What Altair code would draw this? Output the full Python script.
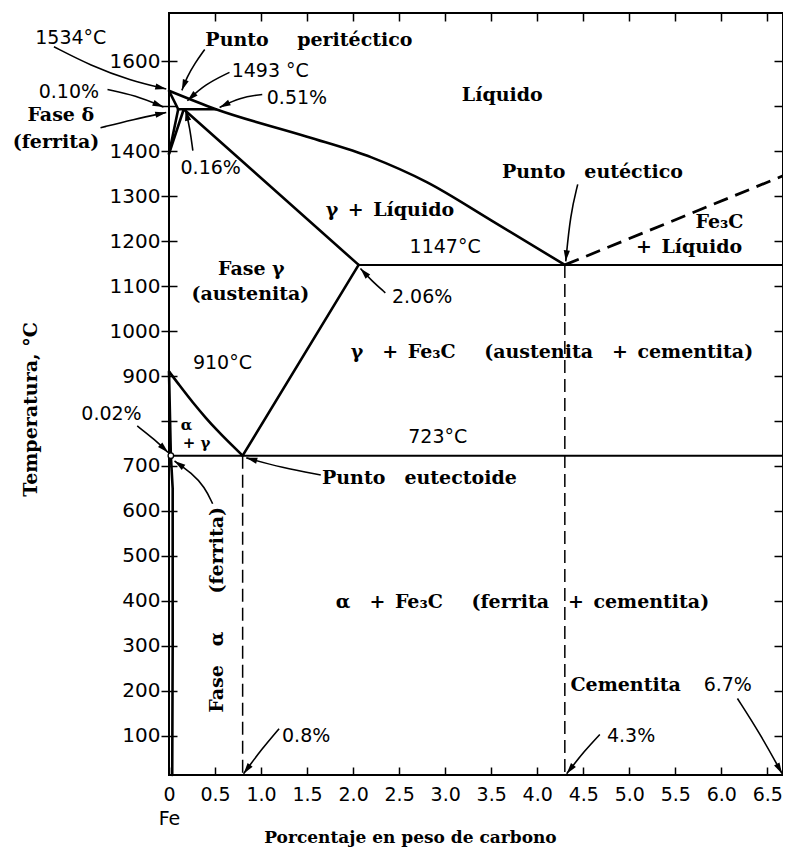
import math
import altair as alt
import pandas as pd

# ---------------- data (x = % C by weight, t = temperature in °C) ----------------
X_DOM = [0, 6.67]
Y_DOM = [13, 1707]
X_TICKS = [0, 0.5, 1.0, 1.5, 2.0, 2.5, 3.0, 3.5, 4.0, 4.5, 5.0, 5.5, 6.0, 6.5]
Y_TICKS = [100, 200, 300, 400, 500, 600, 700, 800, 900, 1000, 1100, 1200, 1300, 1400, 1500, 1600]

# straight phase boundaries
delta_solidus_x = [0, 0.10]
delta_solidus_t = [1534, 1493]
delta_solvus_x = [0.10, 0]
delta_solvus_t = [1493, 1394]
gamma_delta_x = [0.16, 0]
gamma_delta_t = [1493, 1394]
peritectic_x = [0.10, 0.51]
peritectic_t = [1493, 1493]
gamma_solidus_x = [0.16, 2.06]
gamma_solidus_t = [1493, 1147]
eutectic_x = [2.06, 6.67]
eutectic_t = [1147, 1147]
acm_x = [2.06, 0.80]
acm_t = [1147, 723]
alpha_gamma_x = [0, 0.02]
alpha_gamma_t = [910, 723]
eutectoid_x = [0.02, 6.67]
eutectoid_t = [723, 723]
alpha_solvus_x = [0.02, 0.04, 0.04, 0.035]
alpha_solvus_t = [723, 650, 300, 13]

# curved phase boundaries
liquidus_x = [0, 0.51, 1.5, 2.2, 2.8, 3.5, 4.3]
liquidus_t = [1534, 1493, 1432, 1386, 1331, 1246, 1147]
a3_x = [0, 0.10, 0.26, 0.40, 0.52, 0.80]
a3_t = [910, 883, 841, 807, 780, 723]

# dashed lines
fe3c_liq_x = [4.3, 6.67]
fe3c_liq_t = [1147, 1345]
v08_x = [0.8, 0.8]
v08_t = [723, 13]
v43_x = [4.3, 4.3]
v43_t = [1147, 13]

# annotation arrows (paths, tail -> tip)
arrows = {
    "a1534": ([-1.25, -0.851, -0.42, -0.03], [1632, 1590, 1557, 1538]),
    "aperi": ([0.388, 0.28, 0.194, 0.14], [1626, 1595, 1564, 1535]),
    "a1493": ([0.657, 0.388, 0.20], [1575, 1548, 1512]),
    "a010": ([-0.668, -0.366, -0.06], [1537, 1524, 1498]),
    "a051": ([1.013, 0.765, 0.55], [1526, 1519, 1497]),
    "adelta": ([-0.744, -0.388, -0.03], [1452, 1470, 1486]),
    "a016": ([0.259, 0.226, 0.18], [1401, 1452, 1492]),
    "a206": ([2.35, 2.20, 2.08], [1085, 1112, 1139]),
    "aeut": ([4.44, 4.36, 4.31], [1326, 1259, 1155]),
    "a002": ([-0.345, -0.151, -0.01], [789, 758, 730]),
    "aferr": ([0.474, 0.388, 0.248, 0.06], [616, 653, 684, 711]),
    "aeutd": ([1.649, 1.228, 0.84], [680, 696, 718]),
    "a08": ([1.196, 1.013, 0.81], [116, 72, 16]),
    "a43": ([4.68, 4.515, 4.32], [103, 67, 16]),
    "a67": ([6.175, 6.42, 6.66], [183, 105, 16]),
}

# text labels (\u2002 / \u2003 = en / em spaces, to keep the wide word gaps)
serif_text = ["Punto\u2003\u2002peritéctico", "Fase δ", "(ferrita)", "Líquido",
              "Punto\u2003eutéctico", "Fe₃C", "+\u2002Líquido", "γ\u2002+\u2002Líquido",
              "Fase γ", "(austenita)",
              "γ\u2003+\u2002Fe₃C\u2003\u2002(austenita\u2003+\u2002cementita)",
              "Punto\u2003eutectoide",
              "α\u2003+\u2002Fe₃C\u2003\u2002(ferrita\u2003+\u2002cementita)", "Cementita"]
serif_x = [1.52, -1.175, -1.228, 3.62, 4.6, 5.98, 5.65, 2.40, 0.894, 0.884, 4.16,
           2.72, 3.84, 4.96]
serif_t = [1646, 1481, 1421, 1524, 1353, 1242, 1186, 1270, 1137, 1082, 953, 673, 398, 214]

small_text = ["α", "+ γ"]
small_x = [0.19, 0.30]
small_t = [792, 752]

sans_text = ["1534°C", "1493 °C", "0.10%", "0.51%", "0.16%", "1147°C", "2.06%", "910°C",
             "0.02%", "723°C", "6.7%", "0.8%", "4.3%"]
sans_x = [-1.067, 1.10, -1.088, 1.39, 0.453, 3.0, 2.75, 0.58, -0.625, 2.92, 6.07, 1.49, 5.02]
sans_t = [1652, 1577, 1532, 1517, 1362, 1186, 1075, 929, 815, 764, 214, 100, 100]

rot_text = ["Fase\u2003α\u2003\u2003(ferrita)"]
rot_x = [0.517]
rot_t = [380]

point_x = [0.02]
point_t = [723]

# ---------------- layout ----------------
W, H = 614, 762
SERIF = "DejaVu Serif"
SANS = "DejaVu Sans"
HEAD = "M0,0L0.62,2.2L-0.62,2.2Z"


def paths_df(paths):
    rows = []
    for name, (xs, ts) in paths.items():
        for i, (x, t) in enumerate(zip(xs, ts)):
            rows.append({"seg": name, "i": i, "x": x, "t": t})
    return pd.DataFrame(rows)


solid_df = paths_df({
    "delta_solidus": (delta_solidus_x, delta_solidus_t),
    "delta_solvus": (delta_solvus_x, delta_solvus_t),
    "gamma_delta": (gamma_delta_x, gamma_delta_t),
    "peritectic": (peritectic_x, peritectic_t),
    "gamma_solidus": (gamma_solidus_x, gamma_solidus_t),
    "acm": (acm_x, acm_t),
    "alpha_gamma": (alpha_gamma_x, alpha_gamma_t),
    "alpha_solvus": (alpha_solvus_x, alpha_solvus_t),
})
horiz_df = paths_df({
    "eutectic": (eutectic_x, eutectic_t),
    "eutectoid": (eutectoid_x, eutectoid_t),
})
curve_df = paths_df({"liquidus": (liquidus_x, liquidus_t), "a3": (a3_x, a3_t)})
fe3c_df = paths_df({"fe3c": (fe3c_liq_x, fe3c_liq_t)})
vdash_df = paths_df({"v08": (v08_x, v08_t), "v43": (v43_x, v43_t)})
arrow_df = paths_df(arrows)

sx = W / (X_DOM[1] - X_DOM[0])
sy = H / (Y_DOM[1] - Y_DOM[0])
heads = []
for name, (xs, ts) in arrows.items():
    dx = (xs[-1] - xs[-2]) * sx
    dy = -(ts[-1] - ts[-2]) * sy
    ang = math.degrees(math.atan2(dx, -dy)) % 360
    heads.append({"x": xs[-1], "t": ts[-1], "ang": ang})
head_df = pd.DataFrame(heads)

serif_df = pd.DataFrame({"label": serif_text, "x": serif_x, "t": serif_t})
small_df = pd.DataFrame({"label": small_text, "x": small_x, "t": small_t})
sans_df = pd.DataFrame({"label": sans_text, "x": sans_x, "t": sans_t})
rot_df = pd.DataFrame({"label": rot_text, "x": rot_x, "t": rot_t})
pt_df = pd.DataFrame({"x": point_x, "t": point_t})

xs_ = alt.Scale(domain=X_DOM, nice=False, zero=False)
ys_ = alt.Scale(domain=Y_DOM, nice=False, zero=False)

bottom_axis = alt.Axis(
    orient="bottom", values=X_TICKS, offset=-8, tickSize=8, tickWidth=1.5, tickColor="black",
    domain=False, grid=False, labelFont=SANS, labelFontSize=19, labelColor="black",
    labelPadding=10, labelLineHeight=24, labelFlush=False, labelOverlap=False,
    labelExpr="datum.value == 0 ? ['0', 'Fe'] : format(datum.value, '.1f')",
    title="Porcentaje  en  peso  de  carbono", titleFont=SERIF, titleFontSize=17,
    titleFontWeight="bold", titleColor="black", titleX=241, titleY=70,
    titleBaseline="middle", titleAlign="center",
)
left_axis = alt.Axis(
    orient="left", values=Y_TICKS, offset=-8, tickSize=16, tickWidth=1.5, tickColor="black",
    domain=False, grid=False, labelFont=SANS, labelFontSize=20, labelColor="black",
    labelPadding=1, labelFlush=False, labelOverlap=False, format="d",
    labelExpr="(datum.value == 800 || datum.value == 1500) ? '' : datum.label",
    title="Temperatura, °C", titleFont=SERIF, titleFontSize=19, titleFontWeight="bold",
    titleColor="black", titleAngle=270, titleX=-147, titleY=396,
    titleBaseline="middle", titleAlign="center",
)
top_axis = alt.Axis(
    orient="top", values=X_TICKS[1:], offset=-8, tickSize=8, tickWidth=1.5, tickColor="black",
    domain=False, grid=False, labels=False, title="",
)
right_axis = alt.Axis(
    orient="right", values=Y_TICKS, offset=-9, tickSize=9, tickWidth=1.5, tickColor="black",
    domain=False, grid=False, labels=False, title="",
)


def enc(xaxis=None, yaxis=None):
    return {
        "x": alt.X("x:Q", scale=xs_, axis=xaxis, title=""),
        "y": alt.Y("t:Q", scale=ys_, axis=yaxis, title=""),
    }


solid = alt.Chart(solid_df).mark_line(color="black", strokeWidth=2.6, strokeCap="round").encode(
    detail="seg:N", order="i:Q", **enc(bottom_axis, left_axis))
horiz = alt.Chart(horiz_df).mark_line(color="black", strokeWidth=2).encode(
    detail="seg:N", order="i:Q", **enc())
curves = alt.Chart(curve_df).mark_line(color="black", strokeWidth=2.6, interpolate="monotone").encode(
    detail="seg:N", order="i:Q", **enc())
vdash = alt.Chart(vdash_df).mark_line(color="black", strokeWidth=1.5, strokeDash=[13, 6]).encode(
    detail="seg:N", order="i:Q", **enc(top_axis, right_axis))
fe3c = alt.Chart(fe3c_df).mark_line(color="black", strokeWidth=2.8, strokeDash=[15, 8]).encode(
    detail="seg:N", order="i:Q", **enc())
arrow_lines = alt.Chart(arrow_df).mark_line(color="black", strokeWidth=1.6, interpolate="basis").encode(
    detail="seg:N", order="i:Q", **enc())
arrow_heads = alt.Chart(head_df).mark_point(shape=HEAD, filled=True, color="black", size=100,
                                            opacity=1, strokeWidth=0).encode(
    angle=alt.Angle("ang:Q", scale=None), **enc())
pt = alt.Chart(pt_df).mark_point(shape="circle", filled=True, fill="white", stroke="black",
                                 strokeWidth=1.3, size=30, opacity=1).encode(**enc())
serif_lbl = alt.Chart(serif_df).mark_text(font=SERIF, fontSize=19, fontWeight="bold", color="black",
                                          align="center", baseline="middle").encode(text="label:N", **enc())
small_lbl = alt.Chart(small_df).mark_text(font=SERIF, fontSize=15, fontWeight="bold", color="black",
                                          align="center", baseline="middle").encode(text="label:N", **enc())
sans_lbl = alt.Chart(sans_df).mark_text(font=SANS, fontSize=19, color="black",
                                        align="center", baseline="middle").encode(text="label:N", **enc())
rot_lbl = alt.Chart(rot_df).mark_text(font=SERIF, fontSize=19, fontWeight="bold", color="black",
                                      align="center", baseline="middle", angle=270).encode(text="label:N", **enc())

chart = alt.layer(
    solid, horiz, curves, vdash, fe3c, arrow_lines, arrow_heads, pt,
    serif_lbl, small_lbl, sans_lbl, rot_lbl
).resolve_axis(x="independent", y="independent").properties(
    width=W, height=H,
    autosize=alt.AutoSizeParams(type="none"),
    padding={"left": 161, "top": 5, "right": 0, "bottom": 74},
    background="white",
).configure_view(stroke="black", strokeWidth=2)

chart.save("out.html", embed_options={"renderer": "svg", "actions": False})
